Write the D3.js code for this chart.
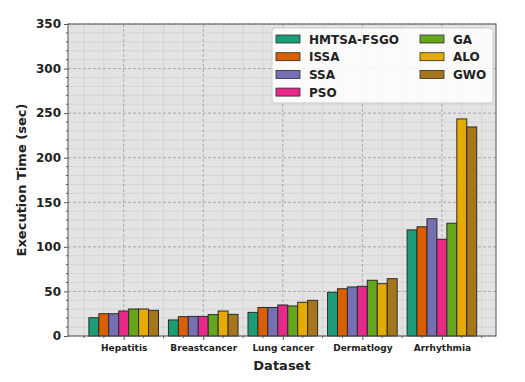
<!DOCTYPE html>
<html>
<head>
<meta charset="utf-8">
<script src="https://cdn.jsdelivr.net/npm/d3@7"></script>
<style>
  body { margin: 0; background: #fff; }
  text { font-family: "DejaVu Sans", sans-serif; font-weight: bold; }
</style>
</head>
<body>
<script>
// data
let datasets = ["Hepatitis", "Breastcancer", "Lung cancer", "Dermatlogy", "Arrhythmia"];
let methods = ["HMTSA-FSGO", "ISSA", "SSA", "PSO", "GA", "ALO", "GWO"];
let colors = ["#1b9e77", "#d95f02", "#7570b3", "#e7298a", "#66a61e", "#e6ab02", "#a6761d"];
let hmtsa = [20.5, 18, 26.5, 49, 119];
let issa  = [25, 21.7, 32, 53, 122.5];
let ssa   = [25, 22, 32, 55, 131.5];
let pso   = [28, 22, 34.8, 55.7, 108.5];
let ga    = [30.3, 24, 33.7, 62.5, 126.5];
let alo   = [30.3, 28, 37.8, 58.7, 243.5];
let gwo   = [28.8, 24.3, 40, 64.3, 234.5];
let series = [hmtsa, issa, ssa, pso, ga, alo, gwo];
let yTicks = [0, 50, 100, 150, 200, 250, 300, 350];

let width = 525, height = 382;
let mLeft = 68, mRight = 496, mTop = 24, mBottom = 336;

let svg = d3.select("body").append("svg")
  .attr("width", width)
  .attr("height", height);

let x = d3.scaleLinear().domain([-0.7, 4.68]).range([mLeft, mRight]);
let y = d3.scaleLinear().domain([0, 350]).range([mBottom, mTop]);
let barW = 0.125;

// plot background
svg.append("rect")
  .attr("x", mLeft).attr("y", mTop)
  .attr("width", mRight - mLeft).attr("height", mBottom - mTop)
  .attr("fill", "#e3e3e3");

// minor grid
let xMinor = d3.range(-0.5, 4.7, 0.25).filter(v => Math.abs(v - Math.round(v)) > 0.01);
let yMinor = d3.range(0, 351, 10).filter(v => v % 50 != 0);
svg.append("g").selectAll("line").data(xMinor).join("line")
  .attr("x1", d => x(d)).attr("x2", d => x(d))
  .attr("y1", mTop).attr("y2", mBottom)
  .attr("stroke", "#cfcfcf").attr("stroke-width", 0.7);
svg.append("g").selectAll("line").data(yMinor).join("line")
  .attr("x1", mLeft).attr("x2", mRight)
  .attr("y1", d => y(d)).attr("y2", d => y(d))
  .attr("stroke", "#cfcfcf").attr("stroke-width", 0.7);

// major grid (dashed)
svg.append("g").selectAll("line").data(d3.range(datasets.length)).join("line")
  .attr("x1", d => x(d)).attr("x2", d => x(d))
  .attr("y1", mTop).attr("y2", mBottom)
  .attr("stroke", "#9a9a9a").attr("stroke-width", 0.8)
  .attr("stroke-dasharray", "3,2");
svg.append("g").selectAll("line").data(yTicks).join("line")
  .attr("x1", mLeft).attr("x2", mRight)
  .attr("y1", d => y(d)).attr("y2", d => y(d))
  .attr("stroke", "#9a9a9a").attr("stroke-width", 0.8)
  .attr("stroke-dasharray", "3,2");

// bars
series.forEach((vals, i) => {
  svg.append("g").selectAll("rect").data(vals).join("rect")
    .attr("x", (d, j) => x(j + (i - 3.5) * barW))
    .attr("y", d => y(d))
    .attr("width", x(barW) - x(0))
    .attr("height", d => y(0) - y(d))
    .attr("fill", colors[i])
    .attr("stroke", "#2b2b2b")
    .attr("stroke-width", 1);
});

// frame
svg.append("rect")
  .attr("x", mLeft).attr("y", mTop)
  .attr("width", mRight - mLeft).attr("height", mBottom - mTop)
  .attr("fill", "none")
  .attr("stroke", "#555").attr("stroke-width", 1);

// y axis
let yAxis = svg.append("g").attr("transform", `translate(${mLeft},0)`)
  .call(d3.axisLeft(y).tickValues(yTicks).tickSize(4).tickPadding(3));
yAxis.select(".domain").remove();
yAxis.selectAll("text").attr("font-size", 12).attr("fill", "#222");
yAxis.selectAll("line").attr("stroke", "#555");
svg.append("g").selectAll("line").data(yMinor).join("line")
  .attr("x1", mLeft - 2).attr("x2", mLeft)
  .attr("y1", d => y(d)).attr("y2", d => y(d))
  .attr("stroke", "#555");

// x axis
let xAxis = svg.append("g").attr("transform", `translate(0,${mBottom})`)
  .call(d3.axisBottom(x).tickValues(d3.range(datasets.length))
    .tickFormat(d => datasets[d]).tickSize(4).tickPadding(5));
xAxis.select(".domain").remove();
xAxis.selectAll("text").attr("font-size", 9).attr("fill", "#222");
xAxis.selectAll("line").attr("stroke", "#555");
svg.append("g").selectAll("line").data(xMinor).join("line")
  .attr("x1", d => x(d)).attr("x2", d => x(d))
  .attr("y1", mBottom).attr("y2", mBottom + 2)
  .attr("stroke", "#555");

// axis titles
svg.append("text")
  .attr("x", (mLeft + mRight) / 2).attr("y", 370)
  .attr("text-anchor", "middle")
  .attr("font-size", 13).attr("fill", "#222")
  .text("Dataset");
svg.append("text")
  .attr("transform", `translate(26,${(mTop + mBottom) / 2}) rotate(-90)`)
  .attr("text-anchor", "middle")
  .attr("font-size", 13).attr("fill", "#222")
  .text("Execution Time (sec)");

// legend
let legend = svg.append("g");
legend.append("rect")
  .attr("x", 272).attr("y", 28)
  .attr("width", 221).attr("height", 75)
  .attr("rx", 3)
  .attr("fill", "#fff").attr("fill-opacity", 0.85)
  .attr("stroke", "#ccc");
let items = legend.selectAll("g").data(methods).join("g")
  .attr("transform", (d, i) => {
    let col = i < 4 ? 0 : 1;
    let row = i < 4 ? i : i - 4;
    return `translate(${276 + col * 144},${39 + row * 17.7})`;
  });
items.append("rect")
  .attr("x", 0).attr("y", -4)
  .attr("width", 24).attr("height", 8)
  .attr("fill", (d, i) => colors[i])
  .attr("stroke", "#2b2b2b").attr("stroke-width", 0.8);
items.append("text")
  .attr("x", 33).attr("y", 4.5)
  .attr("font-size", 12).attr("fill", "#222")
  .text(d => d);
</script>
</body>
</html>
